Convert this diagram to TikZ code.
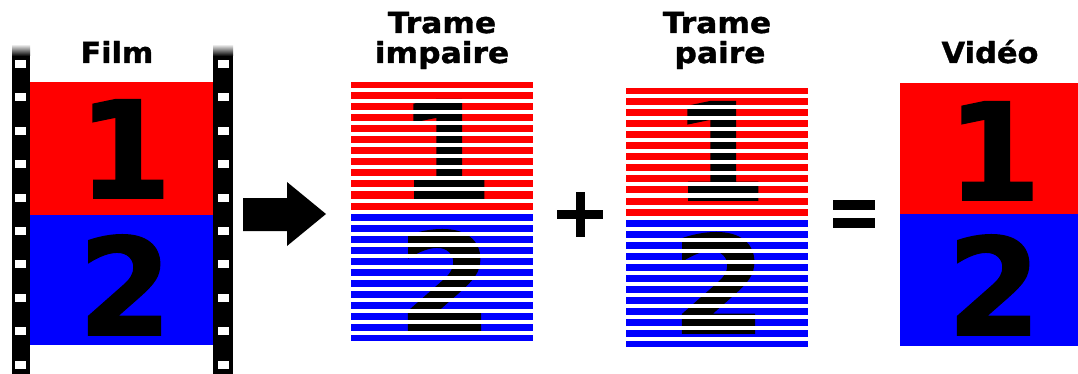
\documentclass[tikz,border=0pt]{standalone}
\usepackage{fontspec}
\usepackage{graphicx}
\setmainfont{DejaVu Sans}
\newfontfamily\heavyfont{DejaVu Sans Bold}[FakeBold=1.2]
\definecolor{fred}{RGB}{255,0,0}
\definecolor{fblue}{RGB}{0,0,255}
\begin{document}
\begin{tikzpicture}[x=1pt,y=-1pt,
  title/.style={font=\fontsize{29}{29}\selectfont\heavyfont, inner sep=0pt, anchor=base},
  digit/.style={font=\fontsize{135}{135}\selectfont\heavyfont, inner sep=0pt, anchor=base}]
\useasboundingbox (0,0) rectangle (1078,374);

% ---------- Film ----------
\node[title] (tfilm) at (117,63) {\scalebox{1.04}[1]{Film}};
\fill[fred] (30,82) rectangle (213,215);
\fill[fblue] (30,215) rectangle (213,345);
\foreach \xa/\xb in {12/30, 213/233}{
  \shade[top color=white, bottom color=black] (\xa,44) rectangle (\xb,56);
  \fill[black] (\xa,56) rectangle (\xb,374);
}
\foreach \i in {0,...,9}{
  \fill[white] (15,{60+33.4*\i}) rectangle (26,{68+33.4*\i});
  \fill[white] (218,{60+33.4*\i}) rectangle (229,{68+33.4*\i});
}
\node[digit] (film1) at (125,198) {1};
\node[digit] (film2) at (125,335) {2};

% ---------- Arrow ----------
\fill[black] (243,198) -- (287,198) -- (287,182) -- (326,214) -- (287,246) -- (287,231) -- (243,231) -- cycle;

% ---------- Trame impaire ----------
\node[title] (todd1) at (442,33) {\scalebox{1.08}[1]{Trame}};
\node[title] (todd2) at (442,63) {\scalebox{1.08}[1]{impaire}};
\fill[fred] (351,82) rectangle (533,211.5);
\fill[fblue] (351,211.5) rectangle (533,341);
\node[digit] (odd1) at (446,198) {1};
\node[digit] (odd2) at (445,330) {2};
\foreach \i in {0,...,22}{
  \fill[white] (349,{88.5+11*\i}) rectangle (535,{92.5+11*\i});
}

% ---------- Plus ----------
\fill[black] (557,210) rectangle (603,219);
\fill[black] (575.5,192) rectangle (584.5,237);

% ---------- Trame paire ----------
\node[title] (teven1) at (717,33) {\scalebox{1.08}[1]{Trame}};
\node[title] (teven2) at (720,63) {\scalebox{1.08}[1]{paire}};
\fill[fred] (626,88) rectangle (808,217.5);
\fill[fblue] (626,217.5) rectangle (808,347);
\node[digit] (even1) at (720,200) {1};
\node[digit] (even2) at (719,333) {2};
\foreach \i in {0,...,22}{
  \fill[white] (624,{94.5+11*\i}) rectangle (810,{98.5+11*\i});
}

% ---------- Equals ----------
\fill[black] (833,200) rectangle (875,210);
\fill[black] (833,218) rectangle (875,228);

% ---------- Video ----------
\node[title] (tvid) at (990,63) {\scalebox{1.05}[1]{Vidéo}};
\fill[fred] (900,83) rectangle (1078,214);
\fill[fblue] (900,214) rectangle (1078,346);
\node[digit] (vid1) at (994,200) {1};
\node[digit] (vid2) at (994,335) {2};
\end{tikzpicture}
\end{document}
